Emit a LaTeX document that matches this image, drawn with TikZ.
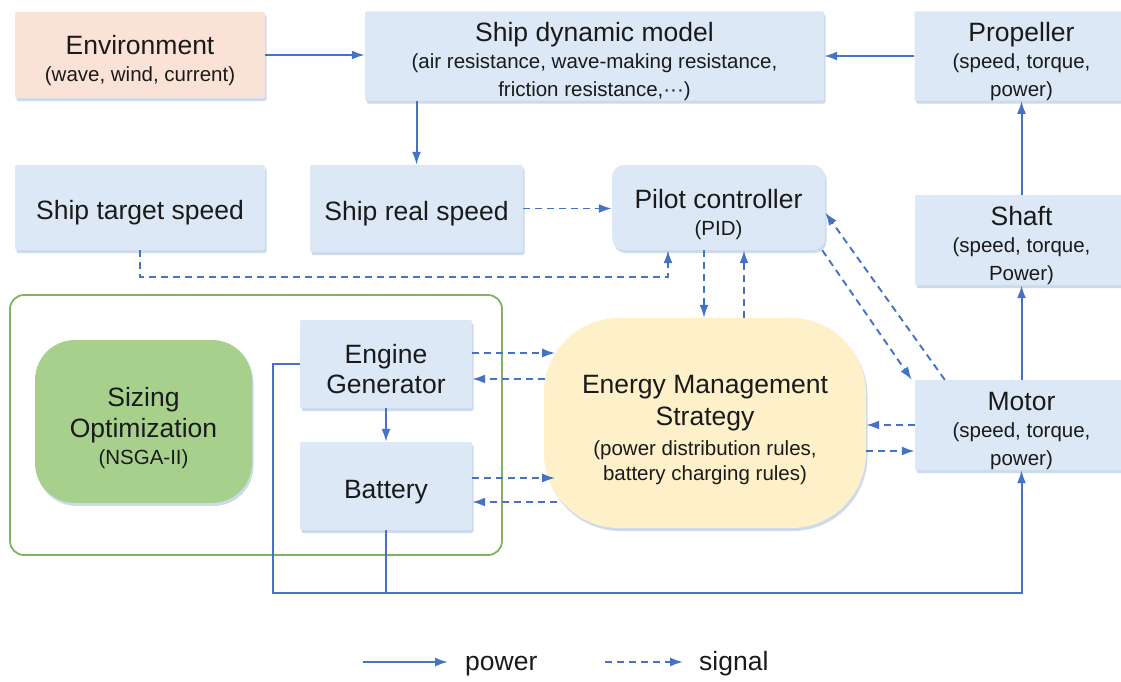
\documentclass[tikz,border=0pt]{standalone}
\usepackage{fontspec}
\setmainfont{Liberation Sans}
\usetikzlibrary{arrows.meta,shadows,calc}
\definecolor{boxblue}{HTML}{DCE8F5}
\definecolor{envc}{HTML}{FAE3D6}
\definecolor{sizc}{HTML}{A8D08D}
\definecolor{emsc}{HTML}{FEF0C9}
\definecolor{grn}{HTML}{82B35E}
\definecolor{lnc}{HTML}{4472C4}
\definecolor{shc}{HTML}{A9C1E0}
\definecolor{txt}{HTML}{1A1A1A}
\newcommand\tfont{\fontsize{26.5}{30}\selectfont}
\newcommand\sfont{\fontsize{20.5}{27.5}\selectfont}
\newcommand\dn{\rule{0pt}{30pt}}
\tikzset{
  box/.style={fill=boxblue, rounded corners=2pt, align=center, text=txt, inner sep=0pt,
    node font=\sfont,
    drop shadow={shadow xshift=1.5pt, shadow yshift=-3pt, fill=shc, opacity=0.6}},
  pow/.style={draw=lnc, line width=2pt, -{Latex[length=13pt,width=9pt]}},
  powline/.style={draw=lnc, line width=2pt},
  sig/.style={draw=lnc, line width=1.9pt, dash pattern=on 7pt off 5pt, -{Latex[length=13pt,width=9pt]}},
}
\begin{document}
\begin{tikzpicture}[x=1pt,y=-1pt]
\useasboundingbox (0,0) rectangle (1121,681);
% container
\node[draw=grn, line width=1.8pt, rounded corners=14pt, minimum width=492pt, minimum height=260pt, inner sep=0pt] (cont) at (256,425) {};
% nodes
\node[box, fill=envc, minimum width=250pt, minimum height=86pt] (env) at (140,55)
  {\dn{\tfont Environment}\\(wave, wind, current)};
\node[box, minimum width=459pt, minimum height=88pt] (sdm) at (594.5,56)
  {\dn{\tfont Ship dynamic model}\\(air resistance, wave-making resistance,\\friction resistance,···)};
\node[box, minimum width=214pt, minimum height=88pt] (prop) at (1021.5,56)
  {\dn{\tfont Propeller}\\(speed, torque,\\power)};
\node[box, node font=\tfont, minimum width=250pt, minimum height=85pt] (tgt) at (140,207.5)
  {\dn Ship target speed};
\node[box, node font=\tfont, minimum width=213pt, minimum height=87pt] (real) at (416.5,208.5)
  {\dn Ship real speed};
\node[box, rounded corners=12pt, minimum width=213pt, minimum height=85pt] (pilot) at (718.5,207.5)
  {\rule{0pt}{33pt}{\tfont Pilot controller}\\(PID)};
\node[box, minimum width=213pt, minimum height=90pt] (shaft) at (1021.5,240)
  {\dn{\tfont Shaft}\\(speed, torque,\\Power)};
\node[box, minimum width=213pt, minimum height=90pt] (motor) at (1021.5,425)
  {\dn{\tfont Motor}\\(speed, torque,\\power)};
\node[box, fill=sizc, rounded corners=40pt, minimum width=217pt, minimum height=163pt] (siz) at (143.5,421.5)
  {\rule{0pt}{33pt}{\tfont Sizing}\\[3pt]{\tfont Optimization}\\(NSGA-II)};
\node[box, node font=\tfont, minimum width=172pt, minimum height=88pt] (eg) at (386,364)
  {\dn Engine\\Generator};
\node[box, node font=\tfont, minimum width=172pt, minimum height=88pt] (bat) at (386,486)
  {\dn Battery};
\node[box, fill=emsc, rounded corners=75pt, minimum width=322pt, minimum height=210pt] (ems) at (705,423)
  {\rule{0pt}{32pt}{\tfont Energy Management}\\[5pt]{\tfont Strategy}\\[2pt](power distribution rules,\\[-2pt]battery charging rules)};
% power connectors
\draw[pow] (env.east) -- (env.east -| sdm.west);
\draw[pow] (prop.west) -- (prop.west -| sdm.east);
\draw[pow] (real.north |- sdm.south) -- (real.north);
\draw[pow] (shaft.north) -- (prop.south);
\draw[pow] (motor.north) -- (shaft.south);
\draw[pow] (eg.south) -- (bat.north);
\coordinate (pl) at (273,593);
\draw[pow] (eg.west) -| (pl) -| (motor.south);
\draw[powline] (bat.south) -- (bat.south |- pl);
% signal connectors
\draw[sig] (real.east) -- (real.east -| pilot.west);
\coordinate (tj) at (668,277);
\draw[sig] (tgt.south) |- (tj) -- (tj |- pilot.south);
\coordinate (pd) at ([xshift=-14.5pt]pilot.south);
\coordinate (pu) at ([xshift=25.5pt]pilot.south);
\draw[sig] (pd) -- (pd |- ems.north);
\draw[sig] (pu |- ems.north) -- (pu);
\draw[sig] ([xshift=-3pt]pilot.south east) -- ([xshift=-3pt]motor.north west);
\draw[sig] ([xshift=30pt]motor.north west) -- ([yshift=-5pt]pilot.east);
\draw[sig] ([yshift=11pt]eg.east) -- ++(83,0);
\draw[sig] ([yshift=-15pt]eg.east) ++(73,0) -- ([yshift=-15pt]eg.east);
\draw[sig] ([yshift=8pt]bat.east) -- ++(83,0);
\draw[sig] ([yshift=-16pt]bat.east) ++(85,0) -- ([yshift=-16pt]bat.east);
\draw[sig] (motor.west) -- (motor.west -| ems.east);
\coordinate (em) at ([yshift=-28pt]ems.east);
\draw[sig] (em) -- (em -| motor.west);
% legend
\coordinate (lp1) at (363,662);
\coordinate (lp2) at (448,662);
\draw[pow] (lp1) -- (lp2);
\node[anchor=base west, inner sep=0pt, text=txt, font=\tfont] (lpt) at (465,670) {power};
\coordinate (ls1) at (605,662);
\coordinate (ls2) at (683,662);
\draw[sig] (ls1) -- (ls2);
\node[anchor=base west, inner sep=0pt, text=txt, font=\tfont] (lst) at (699,670) {signal};
\end{tikzpicture}
\end{document}
